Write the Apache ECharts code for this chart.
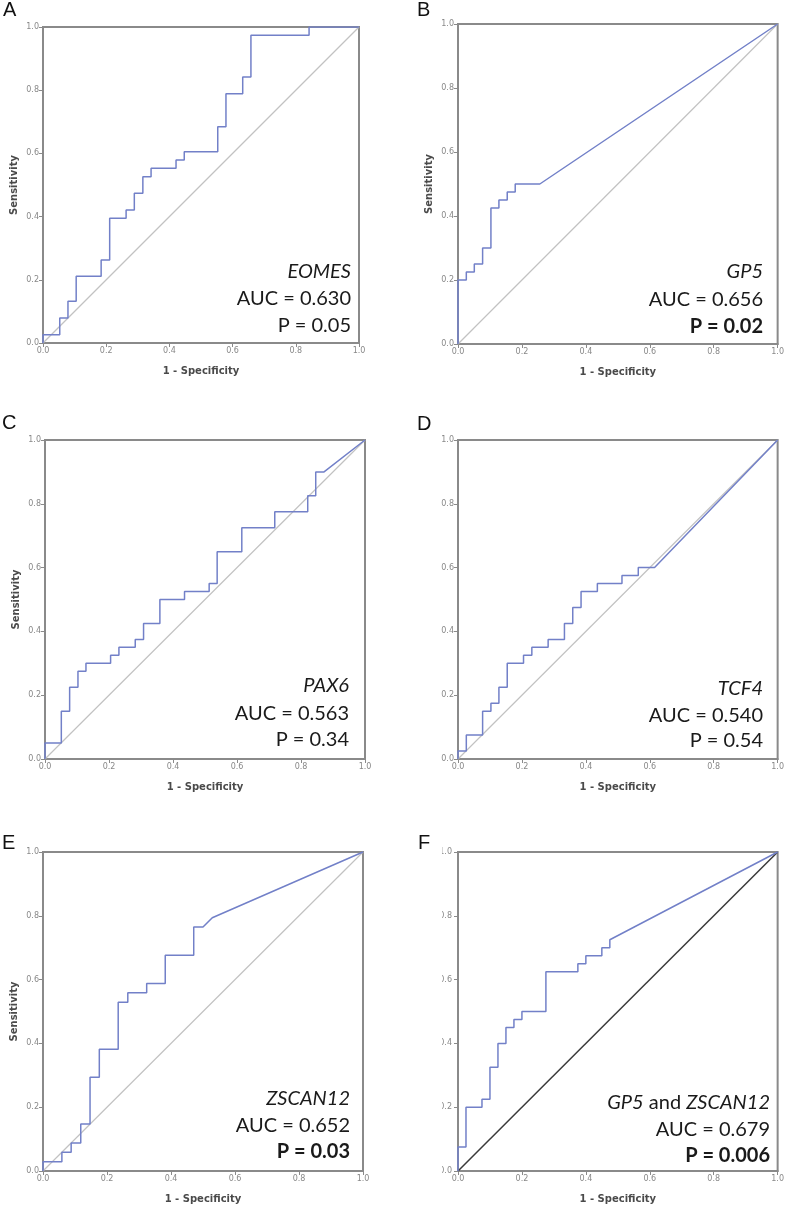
<!DOCTYPE html>
<html><head><meta charset="utf-8">
<script src="https://cdn.jsdelivr.net/npm/echarts@6/dist/echarts.min.js"></script>
<style>html,body{margin:0;padding:0;background:#fff}#c{width:787px;height:1210px}</style>
</head><body><div id="c"></div>
<script>
// ---------- DATA ----------
const panelLetters = ['A', 'B', 'C', 'D', 'E', 'F'];
const genes = ['EOMES', 'GP5', 'PAX6', 'TCF4', 'ZSCAN12', 'GP5 and ZSCAN12'];
const aucValues = ['0.630', '0.656', '0.563', '0.540', '0.652', '0.679'];
const pValues = ['0.05', '0.02', '0.34', '0.54', '0.03', '0.006'];
const pSignificant = [false, true, false, false, true, true];
const tickValues = [0, 0.2, 0.4, 0.6, 0.8, 1.0];
const xAxisName = '1 - Specificity';
const yAxisName = 'Sensitivity';
const diagonal = [[0, 0], [1, 1]];

const rocA = [[0,0],[0,0.026],[0.053,0.026],[0.053,0.079],[0.079,0.079],[0.079,0.132],[0.105,0.132],[0.105,0.211],[0.184,0.211],[0.184,0.263],[0.211,0.263],[0.211,0.395],[0.263,0.395],[0.263,0.421],[0.289,0.421],[0.289,0.474],[0.316,0.474],[0.316,0.526],[0.342,0.526],[0.342,0.553],[0.421,0.553],[0.421,0.579],[0.447,0.579],[0.447,0.605],[0.553,0.605],[0.553,0.684],[0.579,0.684],[0.579,0.789],[0.632,0.789],[0.632,0.842],[0.658,0.842],[0.658,0.974],[0.842,0.974],[0.842,1],[1,1]];
const rocB = [[0,0],[0,0.2],[0.026,0.2],[0.026,0.225],[0.051,0.225],[0.051,0.25],[0.077,0.25],[0.077,0.3],[0.103,0.3],[0.103,0.425],[0.128,0.425],[0.128,0.45],[0.154,0.45],[0.154,0.475],[0.179,0.475],[0.179,0.5],[0.256,0.5],[1,1]];
const rocC = [[0,0],[0,0.05],[0.051,0.05],[0.051,0.15],[0.077,0.15],[0.077,0.225],[0.103,0.225],[0.103,0.275],[0.128,0.275],[0.128,0.3],[0.205,0.3],[0.205,0.325],[0.231,0.325],[0.231,0.35],[0.282,0.35],[0.282,0.375],[0.308,0.375],[0.308,0.425],[0.359,0.425],[0.359,0.5],[0.436,0.5],[0.436,0.525],[0.513,0.525],[0.513,0.55],[0.538,0.55],[0.538,0.65],[0.615,0.65],[0.615,0.725],[0.718,0.725],[0.718,0.775],[0.821,0.775],[0.821,0.825],[0.846,0.825],[0.846,0.9],[0.872,0.9],[1,1]];
const rocD = [[0,0],[0,0.025],[0.026,0.025],[0.026,0.075],[0.077,0.075],[0.077,0.15],[0.103,0.15],[0.103,0.175],[0.128,0.175],[0.128,0.225],[0.154,0.225],[0.154,0.3],[0.205,0.3],[0.205,0.325],[0.231,0.325],[0.231,0.35],[0.282,0.35],[0.282,0.375],[0.333,0.375],[0.333,0.425],[0.359,0.425],[0.359,0.475],[0.385,0.475],[0.385,0.525],[0.436,0.525],[0.436,0.55],[0.513,0.55],[0.513,0.575],[0.564,0.575],[0.564,0.6],[0.615,0.6],[1,1]];
const rocE = [[0,0],[0,0.029],[0.059,0.029],[0.059,0.059],[0.088,0.059],[0.088,0.088],[0.118,0.088],[0.118,0.147],[0.147,0.147],[0.147,0.294],[0.176,0.294],[0.176,0.382],[0.235,0.382],[0.235,0.529],[0.265,0.529],[0.265,0.559],[0.324,0.559],[0.324,0.588],[0.382,0.588],[0.382,0.676],[0.471,0.676],[0.471,0.765],[0.5,0.765],[0.529,0.794],[1,1]];
const rocF = [[0,0],[0,0.075],[0.025,0.075],[0.025,0.2],[0.075,0.2],[0.075,0.225],[0.1,0.225],[0.1,0.325],[0.125,0.325],[0.125,0.4],[0.15,0.4],[0.15,0.45],[0.175,0.45],[0.175,0.475],[0.2,0.475],[0.2,0.5],[0.275,0.5],[0.275,0.625],[0.375,0.625],[0.375,0.65],[0.4,0.65],[0.4,0.675],[0.45,0.675],[0.45,0.7],[0.475,0.7],[0.475,0.725],[1,1]];
const rocCurves = [rocA, rocB, rocC, rocD, rocE, rocF];

// ---------- LAYOUT ----------
const layout = [
  {grid:{left:43, top:27, width:316, height:316}, letter:[3,20],   textRight:351, base:[279,306,333], yName:true,  diag:'#c2c2c2', ym:4},
  {grid:{left:458,top:24, width:320, height:320}, letter:[417,20], textRight:763, base:[279,307,334], yName:true,  diag:'#c2c2c2', ym:4},
  {grid:{left:45, top:440,width:320, height:319}, letter:[2,433],  textRight:349, base:[693,721,747], yName:true,  diag:'#c2c2c2', ym:4},
  {grid:{left:458,top:440,width:320, height:319}, letter:[417,434],textRight:763, base:[696,723,748], yName:false, diag:'#c2c2c2', ym:4},
  {grid:{left:43, top:852,width:320, height:319}, letter:[2,853],  textRight:350, base:[1106,1133,1159], yName:true, diag:'#c2c2c2', ym:4},
  {grid:{left:458,top:852,width:321, height:319}, letter:[418,853],textRight:770, base:[1110,1137,1163], yName:false, diag:'#3a3a3a', ym:6}
];

const axisColor = '#8a8a8a';
const curveColor = '#7280c8';
const textFont = 'Lato, "Open Sans", sans-serif';

const grids = [], xAxes = [], yAxes = [], series = [], graphics = [];
layout.forEach((L, i) => {
  grids.push(Object.assign({show:true, borderColor:axisColor, borderWidth:2, backgroundColor:'transparent'}, L.grid));
  const common = {
    gridIndex:i, type:'value', min:0, max:1, interval:0.2,
    axisLine:{show:true, onZero:false, lineStyle:{color:axisColor, width:2}},
    axisTick:{show:true, inside:false, length:4, lineStyle:{color:axisColor, width:1}},
    splitLine:{show:false},
    axisLabel:{color:'#888', fontSize:8, fontFamily:'"DejaVu Sans", sans-serif', margin:4,
               formatter:v => tickValues.indexOf(v) >= 0 ? v.toFixed(1) : ''},
    nameTextStyle:{color:'#4a4a4a', fontSize:10, fontWeight:'bold', fontFamily:'"DejaVu Sans", sans-serif'}
  };
  xAxes.push(Object.assign({}, common, {name:xAxisName, nameLocation:'middle', nameGap:23}));
  yAxes.push(Object.assign({}, common, {name:L.yName ? yAxisName : '', nameLocation:'middle', nameGap:24,
    axisLabel:Object.assign({}, common.axisLabel, {margin:L.ym})}));
  series.push({type:'line', xAxisIndex:i, yAxisIndex:i, data:diagonal, symbol:'none',
               lineStyle:{color:L.diag, width:i===5?1.5:1.2}, z:2, silent:true});
  series.push({type:'line', xAxisIndex:i, yAxisIndex:i, data:rocCurves[i], symbol:'none',
               lineStyle:{color:curveColor, width:1.5}, z:3, silent:true});

  // panel letter
  graphics.push({type:'text', x:L.letter[0], y:L.letter[1], z:101,
    style:{text:panelLetters[i], fontSize:20, fontFamily:'"Liberation Sans", Arial, sans-serif', fill:'#111',
           align:'left', textAlign:'left', verticalAlign:'bottom', textVerticalAlign:'bottom'}});

  // annotation
  const geneText = genes[i].indexOf(' and ') >= 0
      ? genes[i].split(' and ').map(g => '{i|' + g + '}').join('{n| and }')
      : '{i|' + genes[i] + '}';
  const lines = [
    {text:geneText, rich:{i:{fontStyle:'italic', fontSize:20, fontFamily:textFont, fill:'#1a1a1a'},
                          n:{fontSize:20, fontFamily:textFont, fill:'#1a1a1a'}}},
    {text:'AUC = ' + aucValues[i]},
    {text:'P = ' + pValues[i], bold:pSignificant[i]}
  ];
  lines.forEach((ln, k) => {
    const st = {text:ln.text, fontSize:20, fontFamily:textFont, fill:'#1a1a1a',
                fontWeight: ln.bold ? 'bold' : 'normal',
                align:'right', textAlign:'right', verticalAlign:'middle', textVerticalAlign:'middle'};
    if (ln.rich) st.rich = ln.rich;
    graphics.push({type:'text', x:L.textRight, y:L.base[k] - 7, z:50, style:st});
  });
});

// clip the y tick labels of panel F (cut off in the original figure)
graphics.push({type:'rect', shape:{x:400, y:845, width:42, height:335}, z:100,
               style:{fill:'#fff'}});

const chart = echarts.init(document.getElementById('c'), null, {renderer:'canvas'});
chart.setOption({
  animation:false,
  backgroundColor:'#fff',
  grid:grids, xAxis:xAxes, yAxis:yAxes, series:series, graphic:graphics
});
</script></body></html>
